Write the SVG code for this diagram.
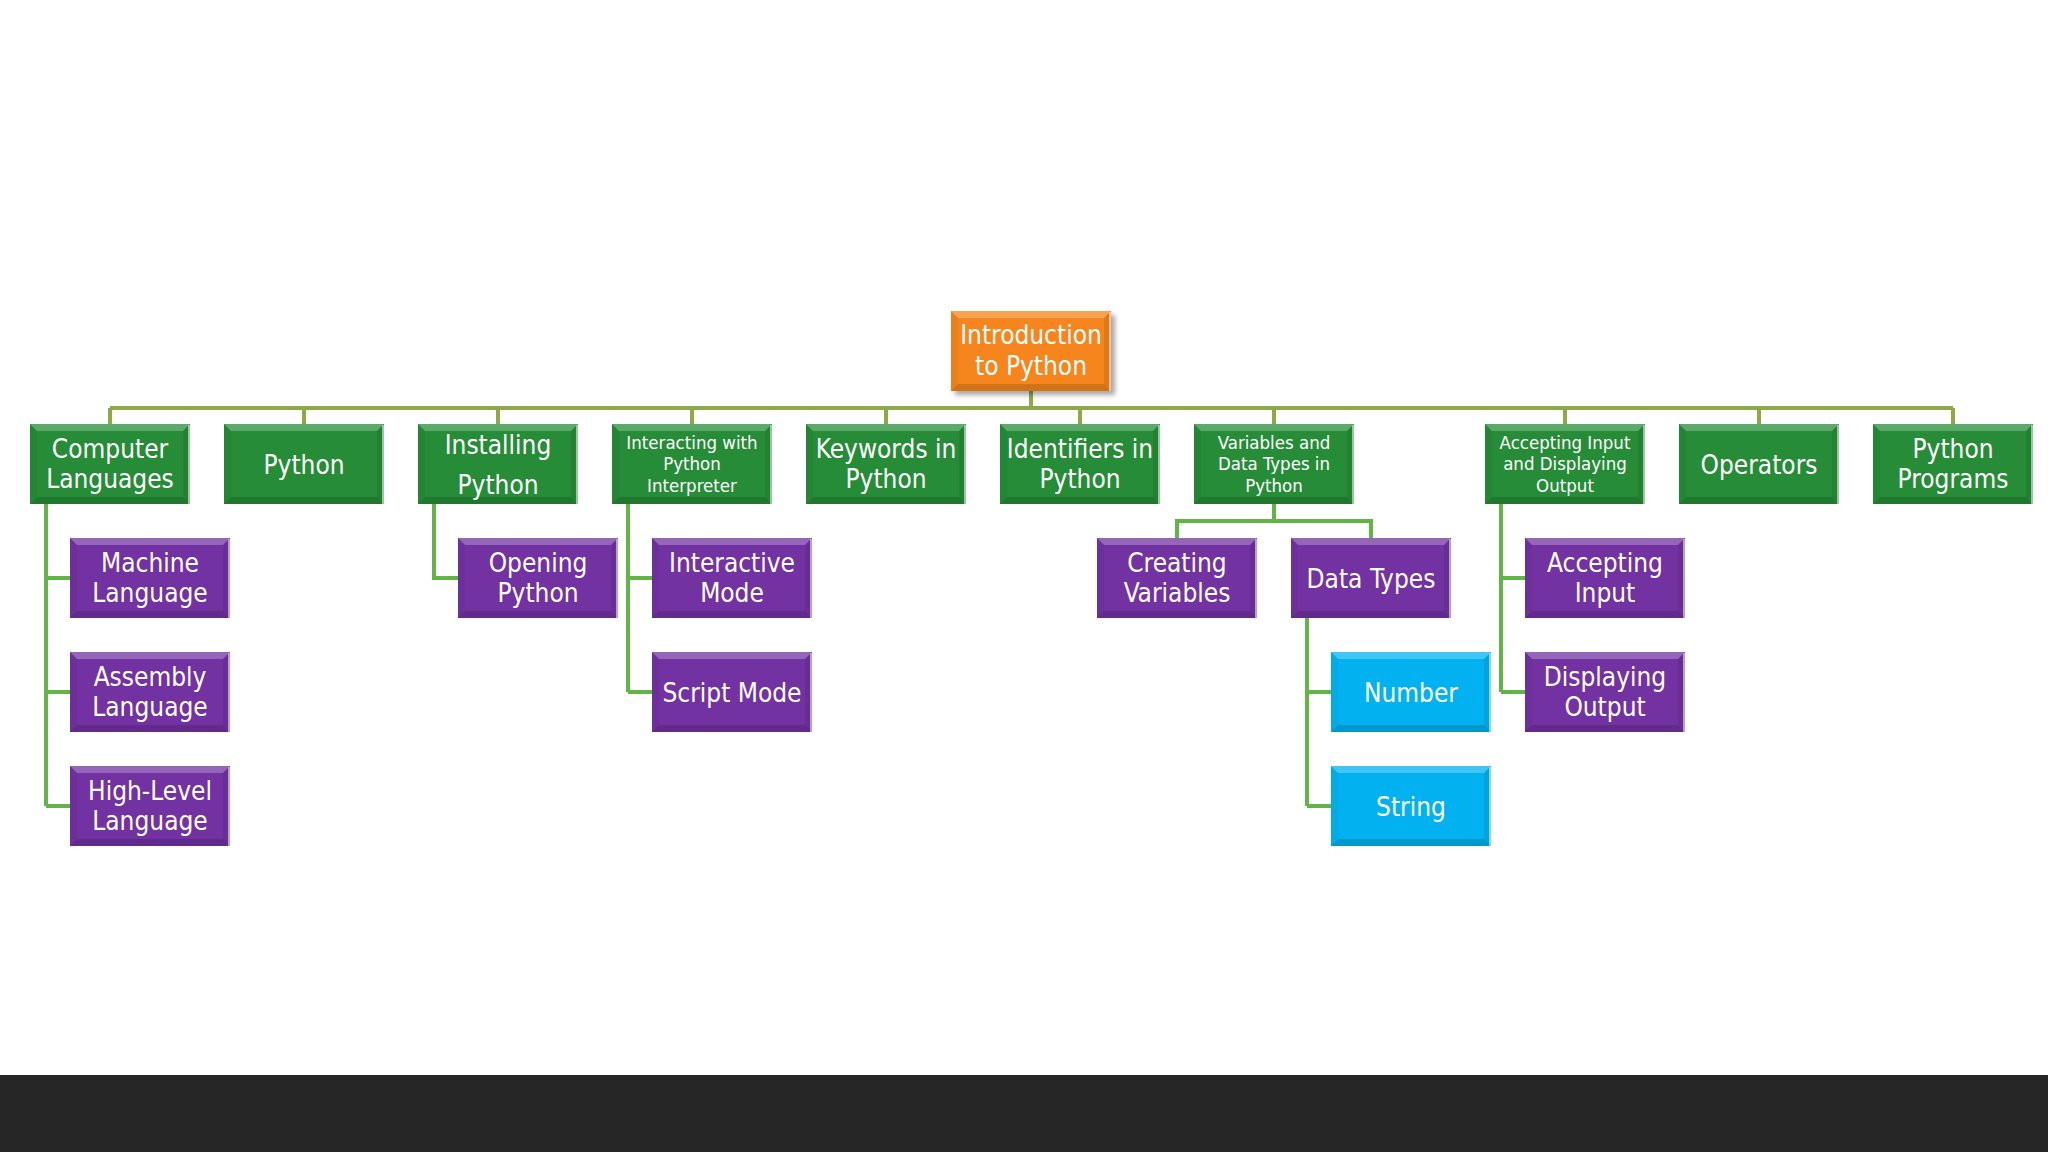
<svg xmlns="http://www.w3.org/2000/svg" xmlns:xlink="http://www.w3.org/1999/xlink" width="2048" height="1152" viewBox="0 0 2048 1152">
<style>
.green{fill:#268C37}
.purple{fill:#7232A2}
.cyan{fill:#02B2F0}
.orange{fill:#F5851F}
text{font-family:"DejaVu Sans Condensed","DejaVu Sans",sans-serif;fill:#FFFFFF;text-anchor:middle;font-size:26px}
text.sm{font-size:18.5px}
.bus{stroke:#8DAA48;stroke-width:4;fill:none}
.sub{stroke:#62B446;stroke-width:4;fill:none}
</style>
<defs>
<symbol id="bevel" viewBox="0 0 160 80" preserveAspectRatio="none">
<polygon points="0,0 160,0 153,7 7,7" fill="#FFFFFF" fill-opacity="0.25"/>
<polygon points="0,0 7,7 7,73 0,80" fill="#000000" fill-opacity="0.04"/>
<polygon points="0,80 7,73 153,73 160,80" fill="#000000" fill-opacity="0.14"/>
<polygon points="160,0 153,7 153,73 160,80" fill="#000000" fill-opacity="0.08"/>
<rect x="158" y="1" width="2" height="79" fill="#FFFFFF" fill-opacity="0.55"/>
</symbol>
<filter id="shadow" x="-10%" y="-10%" width="130%" height="140%">
<feDropShadow dx="4" dy="4" stdDeviation="2.5" flood-color="#000000" flood-opacity="0.35"/>
</filter>
</defs>
<rect x="0" y="0" width="2048" height="1152" fill="#FFFFFF"/>
<rect x="0" y="1075" width="2048" height="77" fill="#262626"/>

<g id="connectors">
<path class="bus" d="M1031,391 V408 M110,408 H1953 M110,408 V424 M304,408 V424 M498,408 V424 M692,408 V424 M886,408 V424 M1080,408 V424 M1274,408 V424 M1565,408 V424 M1759,408 V424 M1953,408 V424"/>
<path class="sub" d="M46,504 V806 M46,578 H70 M46,692 H70 M46,806 H70"/>
<path class="sub" d="M434,504 V578 H458"/>
<path class="sub" d="M628,504 V692 M628,578 H652 M628,692 H652"/>
<path class="sub" d="M1274,504 V521 M1177,538 V521 H1371 V538"/>
<path class="sub" d="M1307,618 V806 M1307,692 H1331 M1307,806 H1331"/>
<path class="sub" d="M1501,504 V692 M1501,578 H1525 M1501,692 H1525"/>
</g>

<g id="root">
<rect class="orange" x="951" y="311" width="160" height="80" filter="url(#shadow)"/>
<use xlink:href="#bevel" x="951" y="311" width="160" height="80"/>
<text x="1031" y="344">Introduction</text>
<text x="1031" y="375">to Python</text>
</g>

<g id="computer-languages">
<rect class="green" x="30" y="424" width="160" height="80"/>
<use xlink:href="#bevel" x="30" y="424" width="160" height="80"/>
<text x="110" y="458">Computer</text>
<text x="110" y="488">Languages</text>
</g>
<g id="python">
<rect class="green" x="224" y="424" width="160" height="80"/>
<use xlink:href="#bevel" x="224" y="424" width="160" height="80"/>
<text x="304" y="474">Python</text>
</g>
<g id="installing-python">
<rect class="green" x="418" y="424" width="160" height="80"/>
<use xlink:href="#bevel" x="418" y="424" width="160" height="80"/>
<text x="498" y="454">Installing</text>
<text x="498" y="494">Python</text>
</g>
<g id="interacting">
<rect class="green" x="612" y="424" width="160" height="80"/>
<use xlink:href="#bevel" x="612" y="424" width="160" height="80"/>
<text class="sm" x="692" y="449">Interacting with</text>
<text class="sm" x="692" y="470">Python</text>
<text class="sm" x="692" y="492">Interpreter</text>
</g>
<g id="keywords">
<rect class="green" x="806" y="424" width="160" height="80"/>
<use xlink:href="#bevel" x="806" y="424" width="160" height="80"/>
<text x="886" y="458">Keywords in</text>
<text x="886" y="488">Python</text>
</g>
<g id="identifiers">
<rect class="green" x="1000" y="424" width="160" height="80"/>
<use xlink:href="#bevel" x="1000" y="424" width="160" height="80"/>
<text x="1080" y="458">Identifiers in</text>
<text x="1080" y="488">Python</text>
</g>
<g id="variables">
<rect class="green" x="1194" y="424" width="160" height="80"/>
<use xlink:href="#bevel" x="1194" y="424" width="160" height="80"/>
<text class="sm" x="1274" y="449">Variables and</text>
<text class="sm" x="1274" y="470">Data Types in</text>
<text class="sm" x="1274" y="492">Python</text>
</g>
<g id="accepting-displaying">
<rect class="green" x="1485" y="424" width="160" height="80"/>
<use xlink:href="#bevel" x="1485" y="424" width="160" height="80"/>
<text class="sm" x="1565" y="449">Accepting Input</text>
<text class="sm" x="1565" y="470">and Displaying</text>
<text class="sm" x="1565" y="492">Output</text>
</g>
<g id="operators">
<rect class="green" x="1679" y="424" width="160" height="80"/>
<use xlink:href="#bevel" x="1679" y="424" width="160" height="80"/>
<text x="1759" y="474">Operators</text>
</g>
<g id="python-programs">
<rect class="green" x="1873" y="424" width="160" height="80"/>
<use xlink:href="#bevel" x="1873" y="424" width="160" height="80"/>
<text x="1953" y="458">Python</text>
<text x="1953" y="488">Programs</text>
</g>

<g id="machine-language">
<rect class="purple" x="70" y="538" width="160" height="80"/>
<use xlink:href="#bevel" x="70" y="538" width="160" height="80"/>
<text x="150" y="572">Machine</text>
<text x="150" y="602">Language</text>
</g>
<g id="assembly-language">
<rect class="purple" x="70" y="652" width="160" height="80"/>
<use xlink:href="#bevel" x="70" y="652" width="160" height="80"/>
<text x="150" y="686">Assembly</text>
<text x="150" y="716">Language</text>
</g>
<g id="high-level-language">
<rect class="purple" x="70" y="766" width="160" height="80"/>
<use xlink:href="#bevel" x="70" y="766" width="160" height="80"/>
<text x="150" y="800">High-Level</text>
<text x="150" y="830">Language</text>
</g>
<g id="opening-python">
<rect class="purple" x="458" y="538" width="160" height="80"/>
<use xlink:href="#bevel" x="458" y="538" width="160" height="80"/>
<text x="538" y="572">Opening</text>
<text x="538" y="602">Python</text>
</g>
<g id="interactive-mode">
<rect class="purple" x="652" y="538" width="160" height="80"/>
<use xlink:href="#bevel" x="652" y="538" width="160" height="80"/>
<text x="732" y="572">Interactive</text>
<text x="732" y="602">Mode</text>
</g>
<g id="script-mode">
<rect class="purple" x="652" y="652" width="160" height="80"/>
<use xlink:href="#bevel" x="652" y="652" width="160" height="80"/>
<text x="732" y="702">Script Mode</text>
</g>
<g id="creating-variables">
<rect class="purple" x="1097" y="538" width="160" height="80"/>
<use xlink:href="#bevel" x="1097" y="538" width="160" height="80"/>
<text x="1177" y="572">Creating</text>
<text x="1177" y="602">Variables</text>
</g>
<g id="data-types">
<rect class="purple" x="1291" y="538" width="160" height="80"/>
<use xlink:href="#bevel" x="1291" y="538" width="160" height="80"/>
<text x="1371" y="588">Data Types</text>
</g>
<g id="accepting-input">
<rect class="purple" x="1525" y="538" width="160" height="80"/>
<use xlink:href="#bevel" x="1525" y="538" width="160" height="80"/>
<text x="1605" y="572">Accepting</text>
<text x="1605" y="602">Input</text>
</g>
<g id="displaying-output">
<rect class="purple" x="1525" y="652" width="160" height="80"/>
<use xlink:href="#bevel" x="1525" y="652" width="160" height="80"/>
<text x="1605" y="686">Displaying</text>
<text x="1605" y="716">Output</text>
</g>
<g id="number">
<rect class="cyan" x="1331" y="652" width="160" height="80"/>
<use xlink:href="#bevel" x="1331" y="652" width="160" height="80"/>
<text x="1411" y="702">Number</text>
</g>
<g id="string">
<rect class="cyan" x="1331" y="766" width="160" height="80"/>
<use xlink:href="#bevel" x="1331" y="766" width="160" height="80"/>
<text x="1411" y="816">String</text>
</g>
</svg>
